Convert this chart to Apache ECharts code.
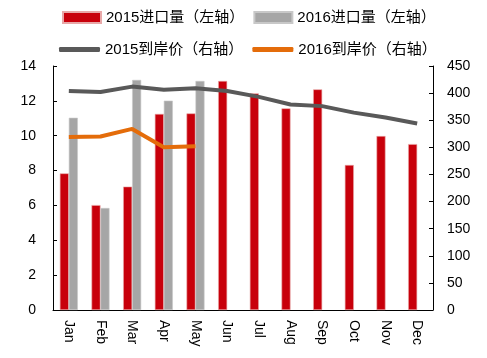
<!DOCTYPE html>
<html><head><meta charset="utf-8">
<script src="https://cdn.jsdelivr.net/npm/echarts@6/dist/echarts.min.js"></script>
<style>html,body{margin:0;padding:0;background:#fff}#c{width:487px;height:358px}</style>
</head><body><div id="c"></div>
<script>
const months = ['Jan','Feb','Mar','Apr','May','Jun','Jul','Aug','Sep','Oct','Nov','Dec'];
const import2015 = [7.84, 6.02, 7.08, 11.25, 11.28, 13.14, 12.43, 11.57, 12.66, 8.32, 9.98, 9.52];
const import2016 = [11.03, 5.85, 13.2, 12.01, 13.14, '-', '-', '-', '-', '-', '-', '-'];
const price2015 = [404, 402, 412, 406, 409, 404, 393, 379, 376, 364, 355, 344];
const price2016 = [319, 320, 334, 300, 302, '-', '-', '-', '-', '-', '-', '-'];
const leftTicks = [0, 14, 2];
const rightTicks = [0, 450, 50];

const font = 'Liberation Sans, Arial, "Noto Sans CJK SC", sans-serif';
const chart = echarts.init(document.getElementById('c'));
chart.setOption({
  animation: false,
  textStyle: {fontFamily: font},
  legend: [
    {data: [{name: '2015进口量（左轴）', icon: 'rect'}, {name: '2016进口量（左轴）', icon: 'rect'}],
     left: 57, top: 5, itemWidth: 38, itemHeight: 11, itemGap: 9,
     textStyle: {fontSize: 15, color: '#000', fontFamily: font}},
    {data: [{name: '2015到岸价（右轴）', icon: 'roundRect'}, {name: '2016到岸价（右轴）', icon: 'roundRect'}],
     left: 54, top: 37, itemWidth: 41, itemHeight: 5, itemGap: 9,
     textStyle: {fontSize: 15, color: '#000', fontFamily: font}}
  ],
  grid: {left: 53, right: 54, top: 66, bottom: 48},
  xAxis: {
    type: 'category', data: months,
    axisLine: {lineStyle: {color: '#000', width: 1}},
    axisTick: {inside: true, length: 5, lineStyle: {color: '#000'}},
    axisLabel: {rotate: -90, color: '#000', fontSize: 14, margin: 10, fontFamily: font}
  },
  yAxis: [
    {type: 'value', min: leftTicks[0], max: leftTicks[1], interval: leftTicks[2],
     splitLine: {show: false},
     axisLine: {show: true, lineStyle: {color: '#000'}},
     axisTick: {show: true, inside: true, length: 4, lineStyle: {color: '#000'}},
     axisLabel: {color: '#000', fontSize: 14, margin: 17, fontFamily: font}},
    {type: 'value', min: rightTicks[0], max: rightTicks[1], interval: rightTicks[2],
     splitLine: {show: false},
     axisLine: {show: true, lineStyle: {color: '#000'}},
     axisTick: {show: true, inside: true, length: 4, lineStyle: {color: '#000'}},
     axisLabel: {color: '#000', fontSize: 14, margin: 14, fontFamily: font}}
  ],
  series: [
    {name: '2015进口量（左轴）', type: 'bar', data: import2015, barWidth: 9, barGap: '0%',
     itemStyle: {color: '#C8000B', borderColor: '#E8A8A8', borderWidth: 0.6}},
    {name: '2016进口量（左轴）', type: 'bar', data: import2016, barWidth: 9, barGap: '0%',
     itemStyle: {color: '#A6A6A6', borderColor: '#C8C8C8', borderWidth: 0.6}},
    {name: '2015到岸价（右轴）', type: 'line', yAxisIndex: 1, data: price2015,
     symbol: 'none', lineStyle: {color: '#595959', width: 4}, itemStyle: {color: '#595959'}},
    {name: '2016到岸价（右轴）', type: 'line', yAxisIndex: 1, data: price2016,
     symbol: 'none', lineStyle: {color: '#E46C0A', width: 4}, itemStyle: {color: '#E46C0A'}}
  ]
});
</script></body></html>
